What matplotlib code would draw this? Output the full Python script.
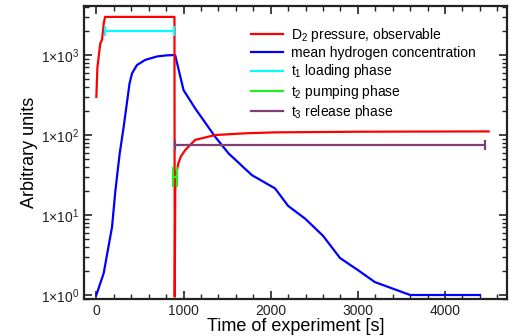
import matplotlib
matplotlib.use("Agg")
import matplotlib.pyplot as plt
from matplotlib.ticker import FixedLocator, LogLocator, MultipleLocator, NullFormatter

plt.rcParams['font.family'] = ['Liberation Sans', 'DejaVu Sans']
plt.rcParams['mathtext.fontset'] = 'custom'
plt.rcParams['mathtext.rm'] = 'Liberation Sans'
plt.rcParams['mathtext.it'] = 'Liberation Sans:italic'

# D2 pressure (observable)
p_time = [0, 12, 45, 65, 85, 100, 893, 896, 899, 905, 915, 940, 970, 1020, 1134, 1363, 1700, 2050, 3000, 4500]
p_val = [300, 700, 1400, 1550, 2500, 3000, 3000, 3000, 0.95, 20, 32, 44, 54, 65, 87, 100, 105, 108, 110, 111]

# mean hydrogen concentration
c_time = [0, 84, 180, 218, 267, 313, 381, 409, 466, 561, 695, 800, 885, 905, 1000, 1134,
          1363, 1516, 1783, 2050, 2200, 2395, 2600, 2795, 3000, 3195, 3600, 4400]
c_val = [1.0, 1.87, 7.1, 20, 58, 126, 443, 590, 750, 870, 960, 990, 1000, 990, 365, 215,
         95, 59, 31.6, 21.5, 13, 9, 5.5, 2.9, 2.05, 1.45, 1.0, 1.0]

# phases (start, end, level)
t1 = (95, 893, 2000)
t2 = (875, 920, 30)
t3 = (905, 4456, 74)

fig = plt.figure(figsize=(5.1, 3.36), dpi=100)
ax = fig.add_axes([0.165, 0.110, 0.829, 0.872])

ax.plot(p_time, p_val, color='#ff0000', lw=1.6, label='D$_2$ pressure, observable', zorder=3)
ax.plot(c_time, c_val, color='#0000ff', lw=1.6, label='mean hydrogen concentration', zorder=2)

for (a, b, y), col, lab in [(t1, '#00ffff', 't$_1$ loading phase'),
                            (t2, '#22ee22', 't$_2$ pumping phase'),
                            (t3, '#7f3f74', 't$_3$ release phase')]:
    cs = 7 if col == '#22ee22' else 3.5
    ax.errorbar([(a + b) / 2], [y], xerr=[[(b - a) / 2], [(b - a) / 2]], color=col,
                lw=1.6, capsize=cs, capthick=1.6, fmt='none', zorder=4)
    ax.plot([], [], color=col, lw=1.6, label=lab)

ax.set_yscale('log')
ax.set_xlim(-140, 4710)
ax.set_ylim(0.89, 4100)

ax.xaxis.set_major_locator(MultipleLocator(1000))
ax.xaxis.set_minor_locator(MultipleLocator(200))
ax.yaxis.set_major_locator(FixedLocator([1, 10, 100, 1000]))
ax.yaxis.set_minor_locator(LogLocator(base=10, subs=range(2, 10)))
ax.yaxis.set_minor_formatter(NullFormatter())
ax.set_yticklabels([r'1$\times$10$^{0}$', r'1$\times$10$^{1}$',
                    r'1$\times$10$^{2}$', r'1$\times$10$^{3}$'])

ax.tick_params(which='both', direction='in', top=True, right=True, labelsize=10, colors='#222222')
ax.tick_params(which='major', length=6, width=1.2)
ax.tick_params(which='minor', length=3.5, width=1.0)
for s in ax.spines.values():
    s.set_linewidth(1.6)
    s.set_color('#222222')

ax.set_xlabel('Time of experiment [s]', fontsize=13, labelpad=0)
ax.set_ylabel('Arbitrary units', fontsize=13, labelpad=2)

ax.legend(loc='upper left', bbox_to_anchor=(0.382, 0.95), frameon=False, fontsize=10,
          handlelength=2.3, handletextpad=0.6, labelspacing=0.15, borderaxespad=0)

fig.savefig('out.png', dpi=100)
